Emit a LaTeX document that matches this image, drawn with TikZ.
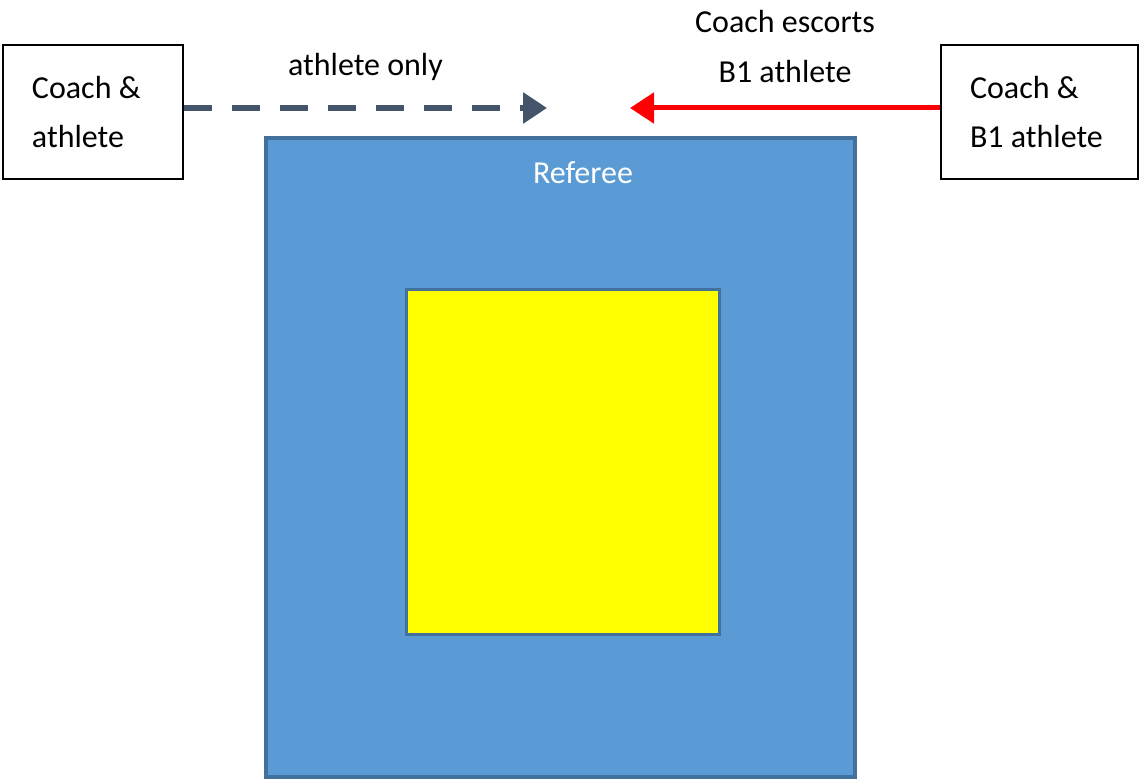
\documentclass[tikz,border=0pt]{standalone}
\usepackage{fontspec}
\setmainfont{Carlito}
\usetikzlibrary{positioning,arrows.meta}
\definecolor{slate}{HTML}{44546A}
\definecolor{fieldblue}{HTML}{5B9BD5}
\definecolor{fieldedge}{HTML}{41719C}
\definecolor{matyellow}{HTML}{FFFF00}

\begin{document}
\begin{tikzpicture}[x=0.5pt,y=-0.5pt,
  every node/.style={font=\fontsize{16}{24.5}\selectfont},
  person/.style={draw,line width=1pt,align=flush left,inner xsep=14.5pt,minimum height=67pt}]
\useasboundingbox (0,0) rectangle (1143,779);
% field of play
\draw[fieldedge,fill=fieldblue,line width=1.8pt] (266,138) rectangle (855,777);
\draw[fieldedge,fill=matyellow,line width=1.5pt] (406,290) rectangle (719,634);
\node[white] (ref) at (583,173) {Referee};
% people waiting
\node[person,text width=61pt] (lbox) at (93,112) {Coach \&\\athlete};
\node[person,text width=69.5pt] (rbox) at (1039.5,112.5) {Coach \&\\B1 athlete};
\coordinate (ltip) at (547,108);
\coordinate (rtip) at (630,108);
\draw[slate,line width=3pt,dash pattern=on 14pt off 10pt,-{Triangle[length=12pt,width=15pt]}] (lbox.east |- ltip) -- node[above=9pt,text=black] {athlete only} (ltip);
\draw[red,line width=2.5pt,-{Triangle[length=12pt,width=15pt]}] (rbox.west |- rtip) -- node[above=8pt,text=black,align=center,font=\fontsize{16}{25}\selectfont] {Coach escorts\\B1 athlete} (rtip);
\end{tikzpicture}
\end{document}
